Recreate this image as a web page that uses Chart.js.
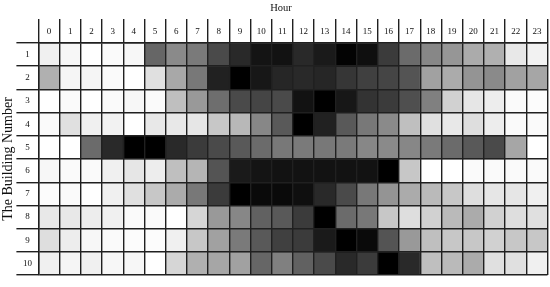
<!DOCTYPE html>
<html><head><meta charset="utf-8">
<script src="https://cdn.jsdelivr.net/npm/chart.js@4/dist/chart.umd.min.js"></script>
<style>html,body{margin:0;padding:0;background:#fff}</style>
</head><body>
<canvas id="c" width="550" height="287"></canvas>
<script>
// Hours (columns) and building numbers (rows)
const hours = ['0','1','2','3','4','5','6','7','8','9','10','11','12','13','14','15','16','17','18','19','20','21','22','23'];
const buildings = ['1','2','3','4','5','6','7','8','9','10'];

// Relative load per hour, 0 = lowest (white) .. 100 = highest (black)
const building1  = [6,3,0,2,3,60,46,52,71,84,92,93,84,90,99,94,77,58,47,41,33,31,9,5];
const building2  = [31,4,4,2,0,12,34,53,87,100,91,85,84,85,79,75,73,67,37,33,42,46,37,35];
const building3  = [0,2,0,2,3,2,25,40,57,71,73,71,93,100,91,80,77,69,50,18,10,7,2,1];
const building4  = [2,12,6,5,0,9,9,10,22,28,47,65,100,87,65,53,46,25,12,9,13,7,2,2];
const building5  = [0,0,58,84,100,100,84,77,71,65,58,53,52,53,52,47,46,47,52,58,65,71,35,0];
const building6  = [3,2,2,6,10,7,25,29,67,90,92,93,93,93,93,93,100,22,0,0,2,2,2,2];
const building7  = [1,2,0,6,12,22,33,53,77,100,96,96,94,84,71,53,42,33,27,22,13,10,10,6];
const building8  = [9,9,7,6,2,2,0,16,40,47,62,65,77,100,58,53,22,13,18,27,33,18,13,12];
const building9  = [13,7,3,2,1,1,6,22,37,52,65,75,77,90,100,96,67,40,25,22,22,18,22,22];
const building10 = [6,4,6,3,3,0,16,31,35,37,60,50,62,71,84,77,100,84,25,27,33,12,12,6];

const rows = [building1,building2,building3,building4,building5,building6,building7,building8,building9,building10];

function gray(v){ const g = Math.round(255 - v * 2.55); return 'rgb(' + g + ',' + g + ',' + g + ')'; }

const datasets = rows.map((row, i) => ({
  label: 'Building ' + buildings[i],
  data: row.map(() => [i, i + 1]),
  backgroundColor: row.map(gray),
  borderWidth: 0,
  barPercentage: 1,
  categoryPercentage: 1,
  grouped: false,
  xAxisID: 'x',
  yAxisID: 'yv'
}));

const lineCol = '#202020';
const lineW = 1.4;
const serif = "'Liberation Serif', 'Times New Roman', serif";

new Chart(document.getElementById('c'), {
  type: 'bar',
  data: { labels: hours, datasets },
  options: {
    responsive: false,
    animation: false,
    devicePixelRatio: 1,
    layout: { padding: { left: 14.5, right: 2.5, top: 0, bottom: 3.7 } },
    plugins: {
      legend: { display: false },
      tooltip: { enabled: false },
      title: {
        display: true, text: 'Hour', position: 'top', fullSize: true,
        color: '#111', font: { family: serif, size: 10.5, weight: 'normal' },
        padding: { top: 1.5, bottom: 0 }
      }
    },
    scales: {
      x: {
        type: 'category', position: 'top', offset: true,
        grid: { offset: true, color: lineCol, lineWidth: lineW, tickLength: 24, drawTicks: true, z: 1 },
        border: { display: true, color: lineCol, width: lineW, z: 1 },
        ticks: { color: '#111', font: { family: serif, size: 9 }, padding: -18, maxRotation: 0, autoSkip: false, z: 1 },
        afterFit: s => { s.height = 28.8; }
      },
      yv: {
        type: 'linear', position: 'left', weight: 0, min: 0, max: 10, reverse: true,
        grid: { color: lineCol, lineWidth: lineW, tickLength: 22, drawTicks: true, z: 1 },
        border: { display: true, color: lineCol, width: lineW, z: 1 },
        ticks: { display: false, stepSize: 1 },
        afterFit: s => { s.width = 0; }
      },
      y: {
        type: 'category', labels: buildings, position: 'left', weight: 1, offset: true,
        grid: { display: false, drawTicks: false },
        border: { display: false },
        ticks: { color: '#111', font: { family: serif, size: 9 }, crossAlign: 'center', padding: 6.5, autoSkip: false, z: 1 },
        title: {
          display: true, text: 'The Building Number', color: '#111',
          font: { family: serif, size: 14 }, padding: { top: -14.6, bottom: 0 }
        },
        afterFit: s => { s.width = 23.9; }
      }
    }
  }
});
</script>
</body></html>
